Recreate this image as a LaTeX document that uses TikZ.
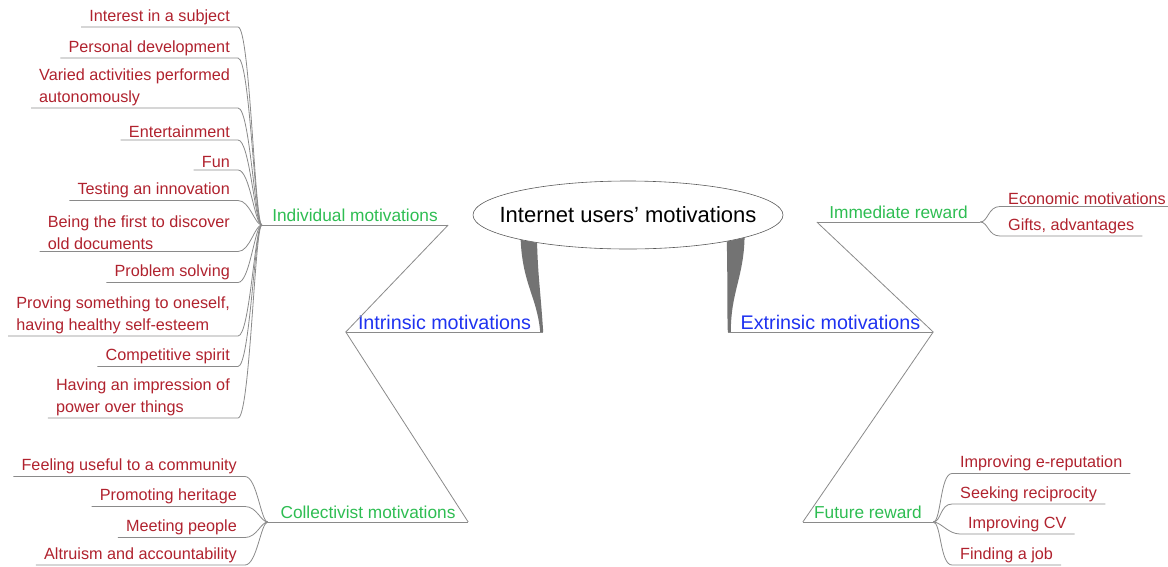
\documentclass[tikz,border=0pt]{standalone}
\usepackage{fontspec}
\setmainfont{Liberation Sans}
\usetikzlibrary{shapes.geometric,calc}

\definecolor{leafred}{HTML}{B0222E}
\definecolor{groupgreen}{HTML}{2EBD52}
\definecolor{motiveblue}{HTML}{1E32F0}
\definecolor{wiregray}{HTML}{8A8A8A}

\begin{document}
\begin{tikzpicture}
[x=1pt, y=-1pt,
 wire/.style={draw=wiregray, line width=0.8pt},
 taper/.style={fill=black!55},
 centre/.style={ellipse, draw=black!65, line width=0.6pt, inner xsep=-30pt, inner ysep=0pt, minimum width=310pt, minimum height=68pt, font=\fontsize{22}{25}\selectfont},
 motive/.style={anchor=south, inner sep=2pt, text=motiveblue, font=\fontsize{19.7}{22}\selectfont},
 group/.style={anchor=south, inner sep=3pt, text=groupgreen, font=\fontsize{17.3}{20}\selectfont},
 leaf/.style={inner xsep=8pt, inner ysep=2pt, align=left, text=leafred, font=\fontsize{16.2}{22}\selectfont},
 lleaf/.style={leaf, anchor=south east},
 rleaf/.style={leaf, anchor=south west}]
\useasboundingbox (0,0) rectangle (1168,566);

% centre
\node[centre] (root) at (628,215) {Internet users' motivations};

% two main branches
\node[motive, minimum width=197pt] (intr) at (444.5,332) {Intrinsic motivations};
\node[motive, minimum width=205pt] (extr) at (830.5,332) {Extrinsic motivations};

% sub branches
\node[group, minimum width=186pt] (indiv) at (355,225) {Individual motivations};
\node[group, minimum width=200pt] (coll) at (368,522) {Collectivist motivations};
\node[group, minimum width=163pt] (immed) at (898.5,222) {Immediate reward};
\node[group, minimum width=130pt] (future) at (868,522) {Future reward};

% individual motivations
\node[lleaf] (i1) at (238,27) {Interest in a subject};
\node[lleaf] (i2) at (238,58) {Personal development};
\node[lleaf] (i3) at (238,108) {Varied activities performed\\autonomously};
\node[lleaf] (i4) at (238,140) {Entertainment};
\node[lleaf] (i5) at (238,170) {Fun};
\node[lleaf] (i6) at (238,200.5) {Testing an innovation};
\node[lleaf] (i7) at (238,251.5) {Being the first to discover\\old documents};
\node[lleaf] (i8) at (238,282.5) {Problem solving};
\node[lleaf] (i9) at (238,336) {Proving something to oneself,\\having healthy self-esteem};
\node[lleaf] (i10) at (238,366.5) {Competitive spirit};
\node[lleaf] (i11) at (238,418) {Having an impression of\\power over things};

% collectivist motivations
\node[lleaf] (c1) at (245,476.5) {Feeling useful to a community};
\node[lleaf] (c2) at (245,506.5) {Promoting heritage};
\node[lleaf] (c3) at (245,537.5) {Meeting people};
\node[lleaf] (c4) at (245,565) {Altruism and accountability};

% immediate reward
\node[rleaf] (m1) at (1000,206.5) {Economic motivations};
\node[rleaf] (m2) at (1000,236) {Gifts, advantages};

% future reward
\node[rleaf] (f1) at (952,473.5) {Improving e-reputation};
\node[rleaf] (f2) at (952,504) {Seeking reciprocity};
\node[rleaf, xshift=8pt] (f3) at (952,534) {Improving CV};
\node[rleaf] (f4) at (952,565) {Finding a job};

% thick connectors from the centre
\fill[taper] (root.193) .. controls +(2,45) and +(-3,-35) .. ($(intr.south east)+(-3,0)$)
  -- (intr.south east) .. controls +(-3,-45) and +(1,35) .. (root.197) -- cycle;
\fill[taper] (root.345) .. controls +(1,40) and +(-1,-35) .. (extr.south west)
  -- ($(extr.south west)+(3,0)$) .. controls +(0,-40) and +(-1,40) .. (root.349) -- cycle;

% underlines
\foreach \n in {intr,extr,indiv,coll,immed,future}
  \draw[wire] (\n.south west) -- (\n.south east);

\draw[wire] (indiv.south east) -- (intr.south west) -- (coll.south east);
\draw[wire] (immed.south west) -- (extr.south east) -- (future.south west);

\foreach \l in {i1,i2,i3,i4,i5,i6,i7,i8,i9,i10,i11}
  \draw[wire] (\l.south west) -- (\l.south east) .. controls +(12,0) and +(-7,0) .. (indiv.south west);
\foreach \l in {c1,c2,c3,c4}
  \draw[wire] (\l.south west) -- (\l.south east) .. controls +(12,0) and +(-7,0) .. (coll.south west);
\foreach \l in {m1,m2}
  \draw[wire] (immed.south east) .. controls +(8,0) and +(-12,0) .. (\l.south west) -- (\l.south east);
\foreach \l in {f1,f2,f3,f4}
  \draw[wire] (future.south east) .. controls +(8,0) and +(-12,0) .. (\l.south west) -- (\l.south east);

\end{tikzpicture}
\end{document}
